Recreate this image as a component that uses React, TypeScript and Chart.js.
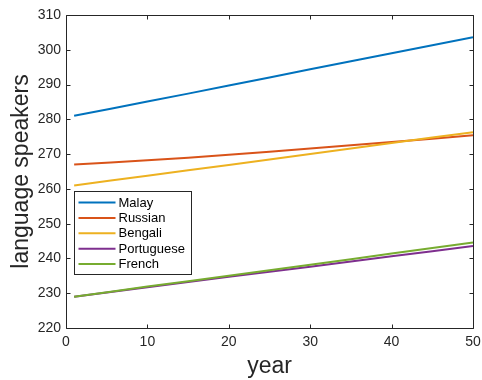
import React, { useEffect, useRef } from "react";
import { Chart, registerables } from "chart.js";

Chart.register(...registerables);

const years = [1, 10, 20, 30, 40, 50];
const malay = [281.0, 285.1, 289.7, 294.4, 299.0, 303.6];
const russian = [267.0, 268.2, 269.8, 271.6, 273.5, 275.4];
const bengali = [261.0, 263.8, 266.9, 270.0, 273.2, 276.3];
const portuguese = [229.0, 231.7, 234.7, 237.6, 240.6, 243.6];
const french = [229.0, 231.9, 235.0, 238.2, 241.4, 244.6];
const seriesNames = ["Malay", "Russian", "Bengali", "Portuguese", "French"];
const seriesValues = [malay, russian, bengali, portuguese, french];
const colors = ["#0072BD", "#D95319", "#EDB120", "#7E2F8E", "#77AC30"];
const yTicks = [220, 230, 240, 250, 260, 270, 280, 290, 300, 310];
const xTicks = [0, 10, 20, 30, 40, 50];

const AXIS = "#262626";
const FONT = "Arial, 'Liberation Sans', Helvetica, sans-serif";

const boxPlugin = {
  id: "matlabBox",
  afterDatasetsDraw(chart: any) {
    const { ctx, chartArea: a, scales } = chart;
    ctx.save();
    ctx.strokeStyle = AXIS;
    ctx.lineWidth = 1;
    ctx.beginPath();
    const L = Math.round(a.left) + 0.5, R = Math.round(a.right) + 0.5;
    const T = Math.round(a.top) + 0.5, B = Math.round(a.bottom) + 0.5;
    ctx.rect(L, T, R - L, B - T);
    const tl = 4;
    for (const v of yTicks) {
      const y = Math.round(scales.y.getPixelForValue(v)) + 0.5;
      ctx.moveTo(L, y); ctx.lineTo(L + tl, y);
      ctx.moveTo(R, y); ctx.lineTo(R - tl, y);
    }
    for (const v of xTicks) {
      const x = Math.round(scales.x.getPixelForValue(v)) + 0.5;
      ctx.moveTo(x, B); ctx.lineTo(x, B - tl);
      ctx.moveTo(x, T); ctx.lineTo(x, T + tl);
    }
    ctx.stroke();

    // legend box
    const lx = 74.5, ly = 191.5, lw = 117, lh = 83;
    ctx.fillStyle = "#ffffff";
    ctx.fillRect(lx, ly, lw, lh);
    ctx.strokeRect(lx, ly, lw, lh);
    ctx.font = `13px ${FONT}`;
    ctx.textBaseline = "middle";
    ctx.textAlign = "left";
    chart.data.datasets.forEach((ds: any, i: number) => {
      const cy = ly + 11 + i * 15.4;
      ctx.strokeStyle = ds.borderColor;
      ctx.lineWidth = 2;
      ctx.beginPath();
      ctx.moveTo(lx + 4, cy);
      ctx.lineTo(lx + 41, cy);
      ctx.stroke();
      ctx.fillStyle = "#000000";
      ctx.fillText(ds.label, lx + 44, cy + 0.5);
    });
    ctx.restore();
  },
};

export default function App() {
  const ref = useRef<HTMLCanvasElement | null>(null);
  useEffect(() => {
    if (!ref.current) return;
    const chart = new Chart(ref.current, {
      type: "line",
      data: {
        datasets: seriesNames.map((name, i) => ({
          label: name,
          data: years.map((x, j) => ({ x, y: seriesValues[i][j] })),
          borderColor: colors[i],
          backgroundColor: colors[i],
          borderWidth: 2,
          pointRadius: 0,
          tension: 0.3,
          fill: false,
          order: seriesNames.length - i,
        })),
      },
      options: {
        animation: false,
        responsive: true,
        maintainAspectRatio: false,
        layout: { padding: { top: 15, right: 9, left: 0, bottom: 0 } },
        plugins: { legend: { display: false }, tooltip: { enabled: false } },
        scales: {
          x: {
            type: "linear",
            min: 0,
            max: 50,
            afterFit: (s: any) => { s.height = 52; s.paddingLeft = 0; s.paddingRight = 0; },
            afterBuildTicks: (s: any) => { s.ticks = xTicks.map((v) => ({ value: v })); },
            grid: { display: false, drawTicks: false },
            border: { display: false },
            ticks: { color: AXIS, padding: 6, font: { family: FONT, size: 14 }, maxRotation: 0 },
            title: { display: true, text: "year", color: AXIS, padding: { top: 0, bottom: 0 }, font: { family: FONT, size: 23 } },
          },
          y: {
            type: "linear",
            min: 220,
            max: 310,
            afterFit: (s: any) => { s.width = 66; s.paddingTop = 0; s.paddingBottom = 0; },
            afterBuildTicks: (s: any) => { s.ticks = yTicks.map((v) => ({ value: v })); },
            grid: { display: false, drawTicks: false },
            border: { display: false },
            ticks: { color: AXIS, padding: 5, font: { family: FONT, size: 14 } },
            title: { display: true, text: "language speakers", color: AXIS, padding: { top: 8, bottom: 0 }, font: { family: FONT, size: 23 } },
          },
        },
      },
      plugins: [boxPlugin],
    });
    return () => chart.destroy();
  }, []);
  return (
    <div style={{ position: "fixed", left: 0, top: 0, width: 482, height: 380, background: "#fff" }}>
      <canvas ref={ref} />
    </div>
  );
}
